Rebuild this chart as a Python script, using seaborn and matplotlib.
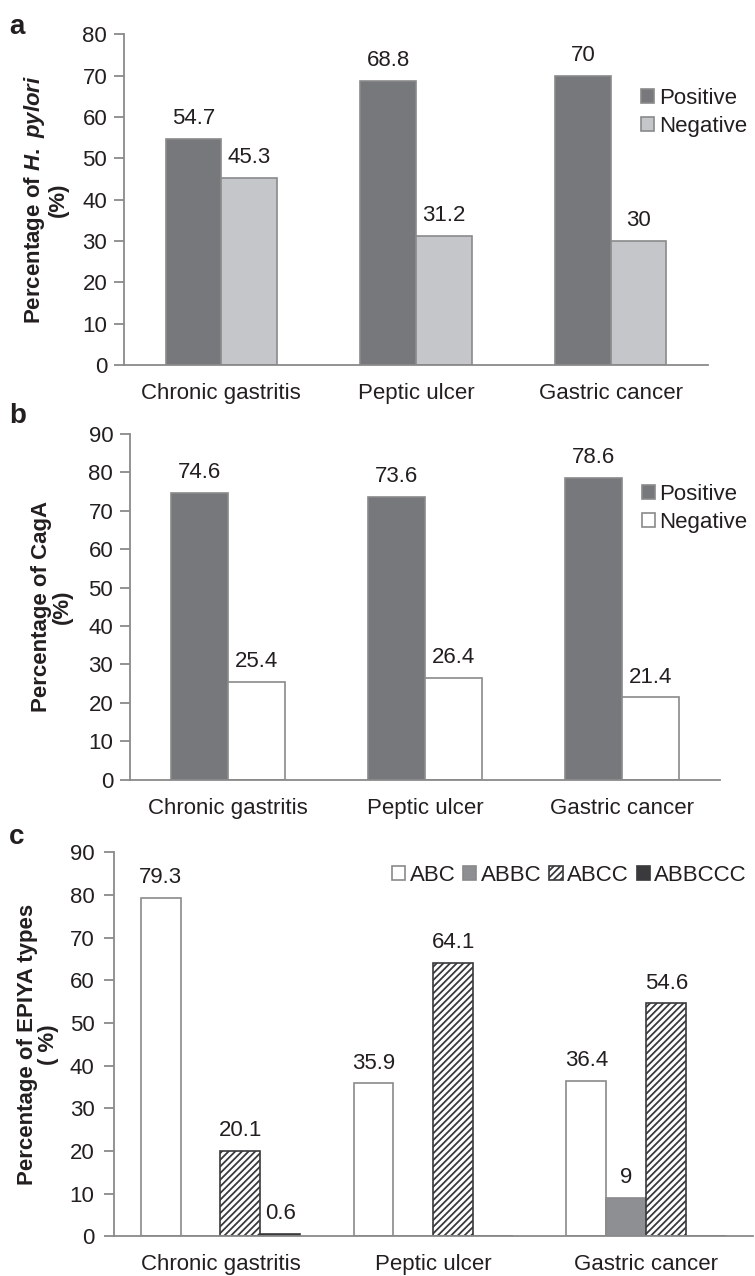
import numpy as np
import pandas as pd
import matplotlib
matplotlib.use("Agg")
import matplotlib.pyplot as plt
import seaborn as sns

# ---- data ----
categories = ["Chronic gastritis", "Peptic ulcer", "Gastric cancer"]
status = ["Positive", "Negative"]
hpylori_pos = [54.7, 68.8, 70]
hpylori_neg = [45.3, 31.2, 30]
caga_pos = [74.6, 73.6, 78.6]
caga_neg = [25.4, 26.4, 21.4]
epiya_types = ["ABC", "ABBC", "ABCC", "ABBCCC"]
epiya_abc = [79.3, 35.9, 36.4]
epiya_abbc = [0, 0, 9]
epiya_abcc = [20.1, 64.1, 54.6]
epiya_abbccc = [0.6, 0, 0]

sns.set_style("white")
plt.rcParams["font.family"] = ["Liberation Sans", "DejaVu Sans"]
plt.rcParams["mathtext.fontset"] = "custom"
plt.rcParams["mathtext.rm"] = "Liberation Sans:bold"
plt.rcParams["mathtext.bf"] = "Liberation Sans:bold"
plt.rcParams["mathtext.it"] = "Liberation Sans:bold:italic"
plt.rcParams["hatch.linewidth"] = 1.3

FS = 16
EDGE = "#8a8a8b"
TXT = "#231f20"


def longDf(seriesDict):
    rows = []
    for name, vals in seriesDict.items():
        for cat, v in zip(categories, vals):
            rows.append({"cat": cat, "series": name, "value": v})
    return pd.DataFrame(rows)


def styleAx(ax, ymax, step, ypad=5):
    ax.set_ylim(0, ymax)
    ax.set_yticks(np.arange(0, ymax + 1, step))
    ax.set_xlim(-0.5, 2.5)
    for side in ["top", "right"]:
        ax.spines[side].set_visible(False)
    for side in ["left", "bottom"]:
        ax.spines[side].set_color(EDGE)
        ax.spines[side].set_linewidth(1.3)
    ax.tick_params(axis="y", length=7, width=1.3, color=EDGE, labelsize=FS, labelcolor=TXT, pad=ypad, left=True)
    ax.tick_params(axis="x", length=0, labelsize=FS, labelcolor=TXT, pad=13)
    ax.set_xlabel("")


def labelBars(ax):
    for cont in ax.containers:
        labs = ["" if v == 0 else "{:g}".format(v) for v in cont.datavalues]
        ax.bar_label(cont, labels=labs, padding=7, fontsize=FS, color=TXT)


def legendFor(ax, names, **kw):
    handles = [cont.patches[0] for cont in ax.containers]
    ax.legend(handles, names, frameon=False, fontsize=FS, handlelength=0.6, handleheight=0.6,
              handletextpad=0.2, borderaxespad=0, labelcolor=TXT, **kw)


fig = plt.figure(figsize=(7.55, 12.76), dpi=100)
axA = fig.add_axes([0.164, 0.714, 0.774, 0.259])
axB = fig.add_axes([0.172, 0.389, 0.782, 0.271])
axC = fig.add_axes([0.151, 0.031, 0.846, 0.301])

# ---- panel a ----
dfA = longDf({"Positive": hpylori_pos, "Negative": hpylori_neg})
sns.barplot(data=dfA, x="cat", y="value", hue="series", ax=axA, width=0.57,
            palette=["#77787c", "#c5c6c9"], edgecolor=EDGE, linewidth=1.2, legend=False, saturation=1)
styleAx(axA, 80, 10)
labelBars(axA)
legendFor(axA, status, loc="upper left", bbox_to_anchor=(0.87, 0.865), labelspacing=0.3)
axA.set_ylabel("Percentage of $\\mathit{H.\\ pylori}$\n(%)", fontsize=FS, fontweight="bold",
               color=TXT, linespacing=1.0, labelpad=10)

# ---- panel b ----
dfB = longDf({"Positive": caga_pos, "Negative": caga_neg})
sns.barplot(data=dfB, x="cat", y="value", hue="series", ax=axB, width=0.58,
            palette=["#77787c", "#ffffff"], edgecolor=EDGE, linewidth=1.2, legend=False, saturation=1)
styleAx(axB, 90, 10)
labelBars(axB)
legendFor(axB, status, loc="upper left", bbox_to_anchor=(0.852, 0.88), labelspacing=0.3)
axB.set_ylabel("Percentage of CagA\n(%)", fontsize=FS, fontweight="bold", color=TXT,
               linespacing=1.0, labelpad=11)

# ---- panel c ----
dfC = longDf({"ABC": epiya_abc, "ABBC": epiya_abbc, "ABCC": epiya_abcc, "ABBCCC": epiya_abbccc})
sns.barplot(data=dfC, x="cat", y="value", hue="series", ax=axC, width=0.75,
            palette=["#ffffff", "#8e8f92", "#ffffff", "#3a3a3c"], edgecolor=EDGE, linewidth=1.2,
            legend=False, saturation=1)
for p in axC.containers[2].patches:
    p.set_hatch("/////")
    p.set_edgecolor("#3a3a3c")
for p in axC.containers[3].patches:
    p.set_edgecolor("#3a3a3c")
styleAx(axC, 90, 10, ypad=7)
labelBars(axC)
legendFor(axC, epiya_types, loc="upper right", bbox_to_anchor=(1.005, 0.99), ncol=4,
          columnspacing=0.35)
axC.set_ylabel("Percentage of EPIYA types\n( %)", fontsize=FS, fontweight="bold", color=TXT,
               linespacing=1.0, labelpad=8)

for lab, y in [("a", 0.979), ("b", 0.674), ("c", 0.344)]:
    fig.text(0.012, y, lab, fontsize=20, fontweight="bold", color=TXT, va="center")

fig.savefig("out.png", dpi=100)
plt.close(fig)
